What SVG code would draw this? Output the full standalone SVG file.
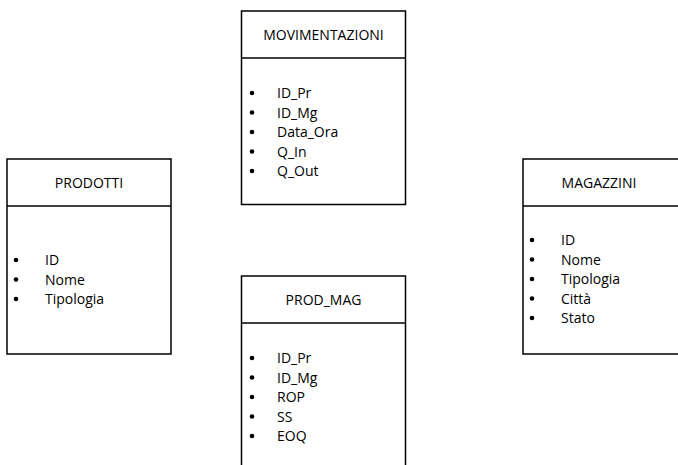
<svg xmlns="http://www.w3.org/2000/svg" width="678" height="465" viewBox="0 0 678 465">
<style>
.box{fill:#fff;stroke:#000;stroke-width:1.5}
.ln{stroke:#000;stroke-width:1.5}
text{font-family:"Open Sans","Noto Sans","Liberation Sans",sans-serif;font-size:14px;fill:#000}
.h{text-anchor:middle}
.b{fill:#000}
</style>
<defs><circle id="bu" r="2.3" class="b"/></defs>
<rect width="678" height="465" fill="#fff"/>
<g id="movimentazioni">
<rect class="box" x="241.5" y="11" width="164" height="193.5"/>
<line class="ln" x1="241.5" y1="58" x2="405.5" y2="58"/>
<text class="h" x="323.5" y="40">MOVIMENTAZIONI</text>
<use href="#bu" x="252" y="93"/><text x="277" y="98">ID_Pr</text>
<use href="#bu" x="252" y="112.5"/><text x="277" y="117.5">ID_Mg</text>
<use href="#bu" x="252" y="132"/><text x="277" y="137">Data_Ora</text>
<use href="#bu" x="252" y="151.5"/><text x="277" y="156.5">Q_In</text>
<use href="#bu" x="252" y="171"/><text x="277" y="176">Q_Out</text>
</g>
<g id="prodotti">
<rect class="box" x="7" y="159" width="164" height="195"/>
<line class="ln" x1="7" y1="206" x2="171" y2="206"/>
<text class="h" x="89" y="188">PRODOTTI</text>
<use href="#bu" x="16" y="260"/><text x="45" y="265">ID</text>
<use href="#bu" x="16" y="279.5"/><text x="45" y="284.5">Nome</text>
<use href="#bu" x="16" y="299"/><text x="45" y="304">Tipologia</text>
</g>
<g id="magazzini">
<rect class="box" x="523" y="159" width="170" height="195"/>
<line class="ln" x1="523" y1="206" x2="680" y2="206"/>
<text class="h" x="599" y="188">MAGAZZINI</text>
<use href="#bu" x="532" y="240"/><text x="561" y="245">ID</text>
<use href="#bu" x="532" y="259.5"/><text x="561" y="264.5">Nome</text>
<use href="#bu" x="532" y="279"/><text x="561" y="284">Tipologia</text>
<use href="#bu" x="532" y="298.5"/><text x="561" y="303.5">Città</text>
<use href="#bu" x="532" y="318"/><text x="561" y="323">Stato</text>
</g>
<g id="prod_mag">
<rect class="box" x="241.5" y="276" width="164" height="200"/>
<line class="ln" x1="241.5" y1="323" x2="405.5" y2="323"/>
<text class="h" x="323.5" y="305">PROD_MAG</text>
<use href="#bu" x="252" y="358"/><text x="277" y="363">ID_Pr</text>
<use href="#bu" x="252" y="377.5"/><text x="277" y="382.5">ID_Mg</text>
<use href="#bu" x="252" y="397"/><text x="277" y="402">ROP</text>
<use href="#bu" x="252" y="416.5"/><text x="277" y="421.5">SS</text>
<use href="#bu" x="252" y="436"/><text x="277" y="441">EOQ</text>
</g>
<g id="connectors"></g>
</svg>
